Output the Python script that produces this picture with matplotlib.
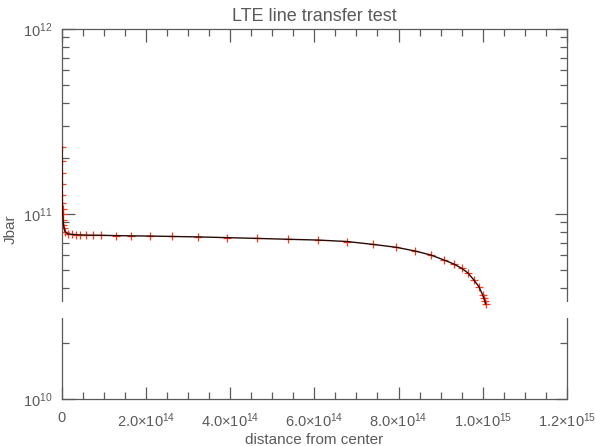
import matplotlib
matplotlib.use("Agg")
import matplotlib.pyplot as plt
from matplotlib.patches import Rectangle
from matplotlib.ticker import FixedLocator, LogLocator, NullFormatter, FixedFormatter

# distance from center (cm) and Jbar values
distance = [5e10, 1e11, 2e11, 4e11, 6e11, 9e11, 1.3e12, 1.8e12, 2.5e12, 3.5e12, 5e12, 8e12,
            1.43e13, 2.38e13, 3.33e13, 4.28e13, 5.70e13, 7.37e13, 9.27e13, 1.28e14, 1.64e14,
            2.09e14, 2.61e14, 3.23e14, 3.92e14, 4.63e14, 5.37e14, 6.08e14, 6.77e14, 7.39e14,
            7.94e14, 8.39e14, 8.77e14, 9.08e14, 9.31e14, 9.50e14, 9.65e14, 9.79e14, 9.91e14,
            1.000e15, 1.003e15, 1.005e15, 1.007e15]
jbar = [2.30e11, 1.93e11, 1.67e11, 1.45e11, 1.27e11, 1.15e11, 1.06e11, 1.00e11, 9.28e10,
        8.73e10, 8.40e10, 8.00e10, 7.80e10, 7.76e10, 7.73e10, 7.71e10, 7.69e10, 7.68e10,
        7.67e10, 7.64e10, 7.62e10, 7.60e10, 7.56e10, 7.52e10, 7.45e10, 7.38e10, 7.30e10,
        7.23e10, 7.10e10, 6.85e10, 6.61e10, 6.31e10, 6.00e10, 5.64e10, 5.37e10, 5.09e10,
        4.80e10, 4.40e10, 4.05e10, 3.65e10, 3.50e10, 3.40e10, 3.26e10]

xtick_vals = [0, 2e14, 4e14, 6e14, 8e14, 1.0e15, 1.2e15]
xtick_labels = ['0', r'2.0$\times$10$^{14}$', r'4.0$\times$10$^{14}$', r'6.0$\times$10$^{14}$',
                r'8.0$\times$10$^{14}$', r'1.0$\times$10$^{15}$', r'1.2$\times$10$^{15}$']
ytick_vals = [1e10, 1e11, 1e12]
ytick_labels = [r'10$^{10}$', r'10$^{11}$', r'10$^{12}$']

gray = '#5a5a5a'
plt.rcParams['font.family'] = ['Liberation Sans', 'DejaVu Sans']
plt.rcParams['mathtext.fontset'] = 'custom'
plt.rcParams['mathtext.rm'] = 'Liberation Sans'
plt.rcParams['mathtext.it'] = 'Liberation Sans:italic'
plt.rcParams['mathtext.bf'] = 'Liberation Sans:bold'

fig = plt.figure(figsize=(5.96, 4.46), dpi=100)
ax = fig.add_axes([0.104, 0.1054, 0.847, 0.8296])

ax.plot(distance, jbar, color='#ff3a1a', marker='+', markersize=6, markeredgewidth=0.9,
        linestyle='none', zorder=2)
ax.plot(distance, jbar, color='#2a0a05', linewidth=1.0, zorder=3)

ax.set_yscale('log')
ax.set_xlim(0, 1.2e15)
ax.set_ylim(1e10, 1e12)

ax.xaxis.set_major_locator(FixedLocator(xtick_vals))
ax.xaxis.set_major_formatter(FixedFormatter(xtick_labels))
ax.xaxis.set_minor_locator(FixedLocator([i * 5e13 for i in range(25)]))
ax.yaxis.set_major_locator(FixedLocator(ytick_vals))
ax.yaxis.set_major_formatter(FixedFormatter(ytick_labels))
ax.yaxis.set_minor_locator(LogLocator(base=10, subs=range(2, 10)))
ax.yaxis.set_minor_formatter(NullFormatter())

ax.tick_params(which='both', direction='in', top=True, right=True, color=gray,
               labelcolor=gray, labelsize=10.5, width=0.9)
ax.tick_params(which='major', length=9)
ax.tick_params(axis='x', which='major', pad=9)
ax.tick_params(axis='y', which='major', pad=7)
ax.tick_params(which='minor', length=5)
for s in ax.spines.values():
    s.set_color(gray)
    s.set_linewidth(0.9)

ax.set_title('LTE line transfer test', color=gray, fontsize=13, pad=6)
ax.set_xlabel('distance from center', color=gray, fontsize=11, labelpad=2)
ax.set_ylabel('Jbar', color=gray, fontsize=11)
ax.yaxis.set_label_coords(-0.088, 0.46)

# scan artifact: small gaps in the left and right axis lines
for xa in (0.0, 1.0):
    ax.add_patch(Rectangle((xa - 0.015, 0.219), 0.03, 0.043, transform=ax.transAxes,
                           facecolor='white', edgecolor='none', clip_on=False, zorder=10))

fig.savefig('out.png', dpi=100)
